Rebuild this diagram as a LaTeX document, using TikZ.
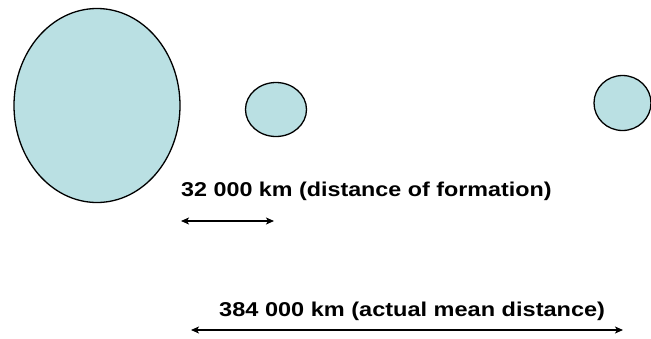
\documentclass[tikz,border=0pt]{standalone}
\usepackage{fontspec}
\setmainfont{Liberation Sans}
\usetikzlibrary{arrows.meta}
\definecolor{moon}{RGB}{186,224,227}
\begin{document}
\begin{tikzpicture}[x=1pt,y=-1pt,
  body/.style={draw=black,line width=1.3pt,fill=moon},
  lbl/.style={font=\bfseries\fontsize{20}{24}\selectfont,inner sep=0pt,anchor=base west,xscale=1.165,transform shape},
  dist/.style={line width=1.2pt,{Stealth[length=8pt,width=7pt,inset=2pt]}-{Stealth[length=8pt,width=7pt,inset=2pt]}}]
\useasboundingbox (0,0) rectangle (651,338);
\draw[body] (97,105.5) ellipse [x radius=83,y radius=97];
\draw[body] (276,109.5) ellipse [x radius=30.5,y radius=27];
\draw[body] (622.5,103) ellipse [x radius=28.5,y radius=27.5];
\node[lbl] (t1) at (181,196) {32 000 km (distance of formation)};
\node[lbl,xscale=1.01] (t2) at (219,316.5) {384 000 km (actual mean distance)};
\coordinate (a1) at (181,221);
\coordinate (b1) at (274,221);
\coordinate (a2) at (191,330);
\coordinate (b2) at (623,330);
\draw[dist] (a1) -- (b1);
\draw[dist] (a2) -- (b2);
\end{tikzpicture}
\end{document}
